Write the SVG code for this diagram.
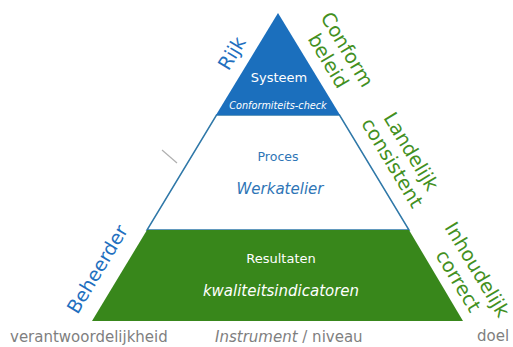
<svg xmlns="http://www.w3.org/2000/svg" width="513" height="347" viewBox="0 0 513 347">
<style>
text{font-family:"DejaVu Sans","Verdana","Liberation Sans",sans-serif;}
.w{fill:#ffffff;text-anchor:middle;}
.b{fill:#2e75b6;text-anchor:middle;}
.g{fill:#43901f;text-anchor:middle;font-size:19.5px;}
.lb{fill:#1f70bf;text-anchor:middle;font-size:19px;}
.gr{fill:#7f7f7f;font-size:15px;}
.i{font-style:italic;}
</style>
<rect width="513" height="347" fill="#ffffff"/>
<g id="level-proces">
<polygon points="216.5,115 339.5,115 409,230 147,230" fill="#ffffff" stroke="#2f78a8" stroke-width="1.5"/>
<text class="b" x="278" y="161" font-size="12.5">Proces</text>
<text class="b i" x="280" y="194" font-size="15">Werkatelier</text>
</g>
<g id="level-systeem">
<polygon points="278,13 340,115 216,115" fill="#1b6fbd"/>
<text class="w" x="279" y="82" font-size="13">Systeem</text>
<text class="w i" x="278" y="109" font-size="9.7">Conformiteits-check</text>
</g>
<g id="level-resultaten">
<polygon points="147,230 409,230 463,321 92,321" fill="#38871b"/>
<text class="w" x="281" y="263" font-size="13">Resultaten</text>
<text class="w i" x="281" y="296" font-size="15">kwaliteitsindicatoren</text>
</g>
<line x1="162" y1="150" x2="177" y2="163" stroke="#b0b0b0" stroke-width="1.2"/>
<g id="label-rijk" transform="translate(231.5,53) rotate(-59)">
<text class="lb" x="0" y="7" font-size="20.5">Rijk</text>
</g>
<g id="label-beheerder" transform="translate(97,269) rotate(-59)">
<text class="lb" x="0" y="7">Beheerder</text>
</g>
<g id="label-conform" transform="translate(338,55) rotate(59)">
<text class="g" x="0" y="-4">Conform</text>
<text class="g" x="0" y="18">beleid</text>
</g>
<g id="label-landelijk" transform="translate(402,157) rotate(59)">
<text class="g" x="0" y="-4">Landelijk</text>
<text class="g" x="0" y="18">consistent</text>
</g>
<g id="label-inhoudelijk" transform="translate(468,275) rotate(59)">
<text class="g" x="0" y="-4" font-size="19">Inhoudelijk</text>
<text class="g" x="0" y="18" font-size="19">correct</text>
</g>
<g id="axis">
<text class="gr" x="10" y="342">verantwoordelijkheid</text>
<text class="gr" x="215" y="342"><tspan class="i">Instrument</tspan> / niveau</text>
<text class="gr" x="477" y="341">doel</text>
</g>
</svg>
